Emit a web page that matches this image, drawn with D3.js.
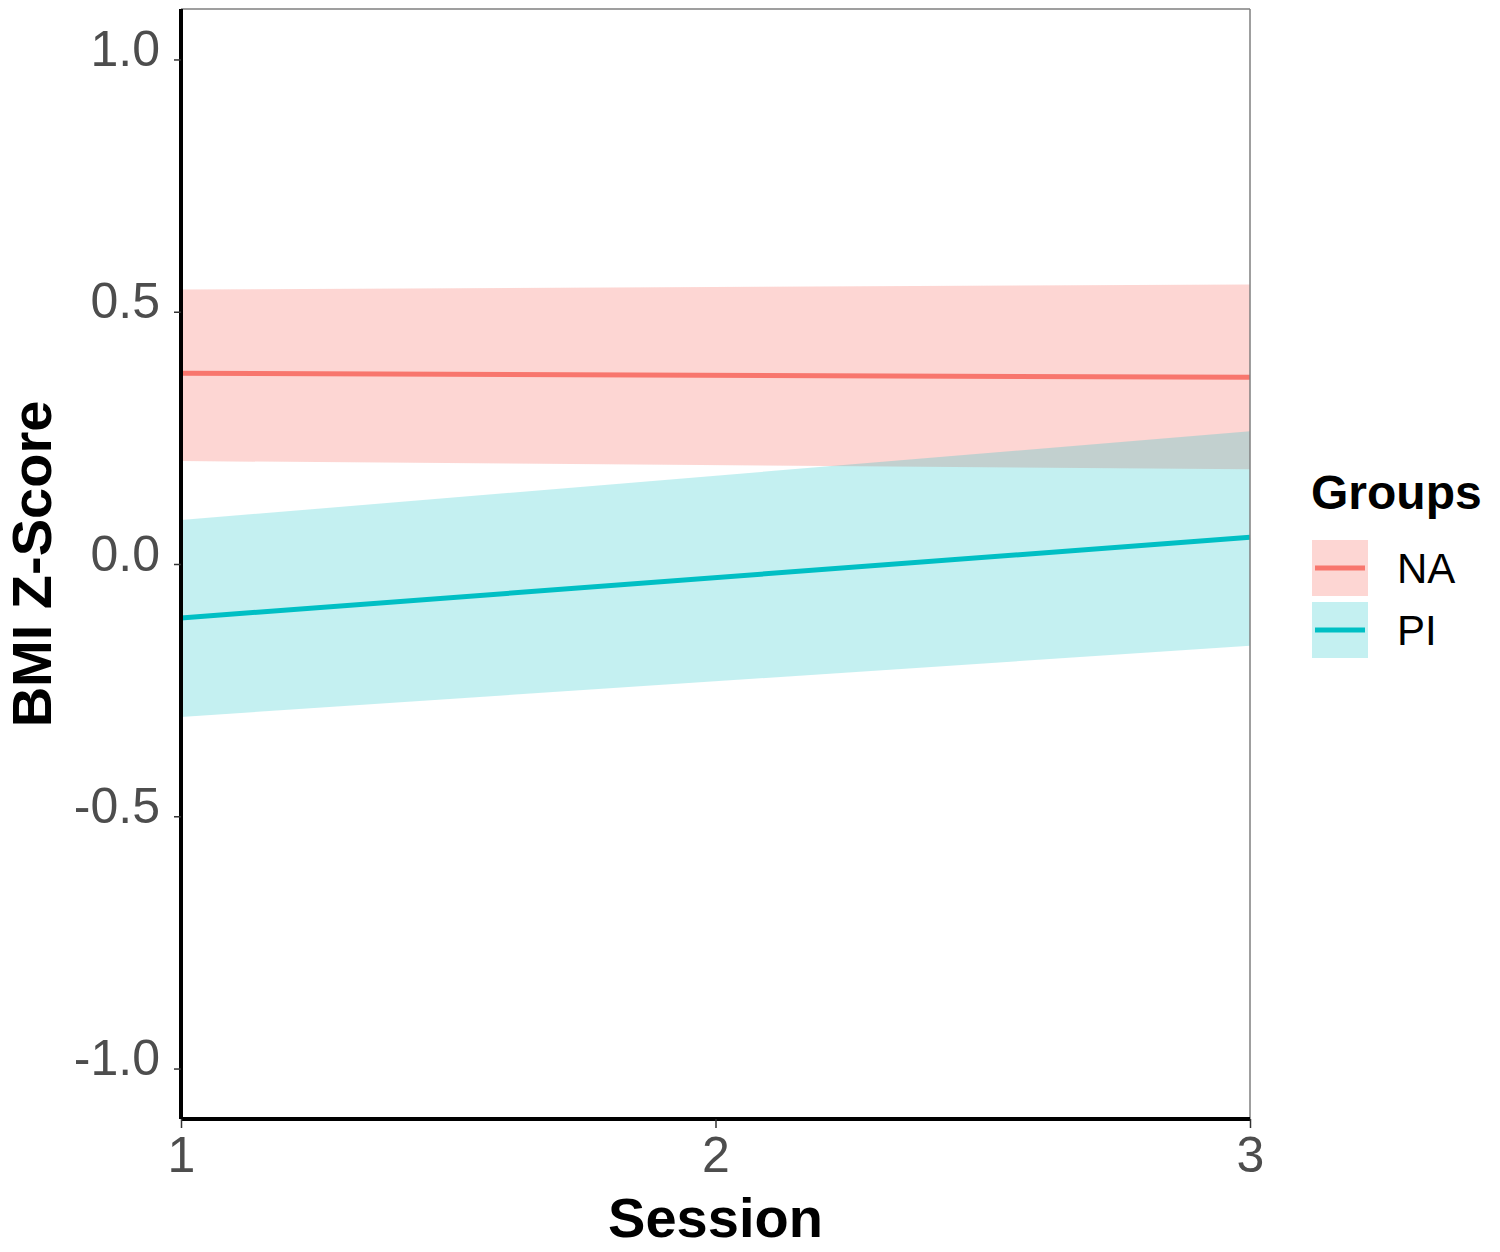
<!DOCTYPE html>
<html>
<head>
<meta charset="utf-8">
<script src="https://cdn.jsdelivr.net/npm/d3@7"></script>
<style>
  body { margin: 0; background: #fff; }
  text { font-family: "Liberation Sans", Arial, sans-serif; }
</style>
</head>
<body>
<div id="chart"></div>
<script>
// sessions and fitted values
const sessions = [1, 3];
const groups = ["NA", "PI"];
const groupColors = ["#F8766D", "#00BFC4"];
const ribbonAlpha = [0.3, 0.23];
const naFit = [0.378, 0.370];
const naLower = [0.204, 0.188];
const naUpper = [0.544, 0.554];
const piFit = [-0.107, 0.053];
const piLower = [-0.303, -0.162];
const piUpper = [0.087, 0.263];
const yTicks = [-1.0, -0.5, 0.0, 0.5, 1.0];
const xTicks = [1, 2, 3];

const w = 1500, h = 1252;
const plotLeft = 181, plotRight = 1250, plotTop = 9, plotBottom = 1119;

const svg = d3.select("#chart").append("svg")
    .attr("width", w)
    .attr("height", h);

const xScale = d3.scaleLinear().domain([1, 3]).range([plotLeft, plotRight]);
const yScale = d3.scaleLinear().domain([-1.1, 1.1]).range([plotBottom, plotTop]);

const series = [
    {name: "NA", fit: naFit, lo: naLower, hi: naUpper, color: groupColors[0], alpha: ribbonAlpha[0]},
    {name: "PI", fit: piFit, lo: piLower, hi: piUpper, color: groupColors[1], alpha: ribbonAlpha[1]}
];

const area = d3.area()
    .x((d, i) => xScale(sessions[i]))
    .y0(d => yScale(d[0]))
    .y1(d => yScale(d[1]));
const line = d3.line()
    .x((d, i) => xScale(sessions[i]))
    .y(d => yScale(d));

// ribbons first, then lines
series.forEach(s => {
    svg.append("path")
        .datum(s.lo.map((v, i) => [v, s.hi[i]]))
        .attr("d", area)
        .attr("fill", s.color)
        .attr("fill-opacity", s.alpha);
});
series.forEach(s => {
    svg.append("path")
        .datum(s.fit)
        .attr("d", line)
        .attr("fill", "none")
        .attr("stroke", s.color)
        .attr("stroke-width", 5);
});

// top and right border
svg.append("line").attr("x1", plotLeft).attr("x2", plotRight).attr("y1", plotTop).attr("y2", plotTop)
    .attr("stroke", "#7f7f7f").attr("stroke-width", 1.5);
svg.append("line").attr("x1", plotRight).attr("x2", plotRight).attr("y1", plotTop).attr("y2", plotBottom)
    .attr("stroke", "#7f7f7f").attr("stroke-width", 1.5);

const yAxis = d3.axisLeft(yScale)
    .tickValues(yTicks)
    .tickFormat(d => d.toFixed(1))
    .tickSize(7)
    .tickPadding(14);
const xAxis = d3.axisBottom(xScale)
    .tickValues(xTicks)
    .tickFormat(d => String(d))
    .tickSize(9)
    .tickPadding(8);

const gy = svg.append("g")
    .attr("transform", "translate(" + plotLeft + ",0)")
    .call(yAxis);
const gx = svg.append("g")
    .attr("transform", "translate(0," + plotBottom + ")")
    .call(xAxis);

[gx, gy].forEach(g => {
    g.select(".domain").attr("stroke", "#000").attr("stroke-width", 4);
    g.selectAll(".tick line").attr("stroke", "#333").attr("stroke-width", 1.5);
    g.selectAll(".tick text")
        .attr("fill", "#4d4d4d")
        .attr("font-size", "50px")
        .style("font-family", "'Liberation Sans', Arial, sans-serif");
});
gy.selectAll(".tick text").attr("dy", "0.12em");
gy.select(".domain").attr("d", "M0," + plotTop + "V" + plotBottom);
gx.select(".domain").attr("d", "M" + plotLeft + ",0H" + plotRight);

// axis titles
svg.append("text")
    .attr("x", (plotLeft + plotRight) / 2)
    .attr("y", 1237)
    .attr("text-anchor", "middle")
    .attr("font-size", "56px")
    .attr("font-weight", "bold")
    .text("Session");
svg.append("text")
    .attr("transform", "translate(51," + yScale(0) + ") rotate(-90)")
    .attr("text-anchor", "middle")
    .attr("font-size", "56px")
    .attr("font-weight", "bold")
    .text("BMI Z-Score");

// legend
const legend = svg.append("g").attr("transform", "translate(1311,0)");
legend.append("text")
    .attr("x", 0)
    .attr("y", 509)
    .attr("font-size", "48px")
    .attr("font-weight", "bold")
    .text("Groups");
groups.forEach((g, i) => {
    const y0 = 540 + i * 62;
    legend.append("rect")
        .attr("x", 1).attr("y", y0)
        .attr("width", 56).attr("height", 56)
        .attr("fill", groupColors[i]).attr("fill-opacity", ribbonAlpha[i]);
    legend.append("line")
        .attr("x1", 4).attr("x2", 54)
        .attr("y1", y0 + 28).attr("y2", y0 + 28)
        .attr("stroke", groupColors[i]).attr("stroke-width", 5);
    legend.append("text")
        .attr("x", 86)
        .attr("y", y0 + 43)
        .attr("font-size", "42px")
        .attr("fill", "#000")
        .text(g);
});
</script>
</body>
</html>
